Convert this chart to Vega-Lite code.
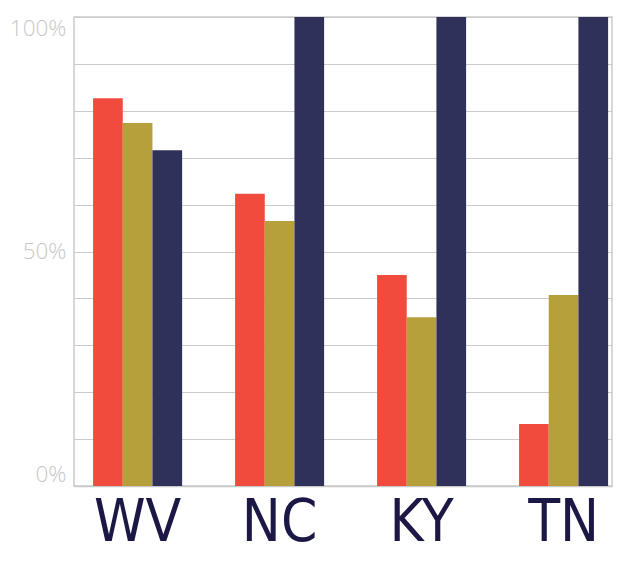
{
  "$schema": "https://vega.github.io/schema/vega-lite/v6.json",
  "width": 538,
  "height": 469,
  "autosize": {"type": "none"},
  "padding": {"left": 74, "top": 17, "right": 18, "bottom": 75},
  "background": "white",
  "config": {
    "view": {"stroke": "#cccccc", "strokeWidth": 1.5}
  },
  "data": {
    "values": [
      {"state": "WV", "series": "A", "value": 82.7},
      {"state": "WV", "series": "B", "value": 77.4},
      {"state": "WV", "series": "C", "value": 71.6},
      {"state": "NC", "series": "A", "value": 62.3},
      {"state": "NC", "series": "B", "value": 56.5},
      {"state": "NC", "series": "C", "value": 100},
      {"state": "KY", "series": "A", "value": 45.0},
      {"state": "KY", "series": "B", "value": 36.0},
      {"state": "KY", "series": "C", "value": 100},
      {"state": "TN", "series": "A", "value": 13.2},
      {"state": "TN", "series": "B", "value": 40.7},
      {"state": "TN", "series": "C", "value": 100}
    ]
  },
  "mark": {"type": "bar"},
  "encoding": {
    "x": {
      "field": "state",
      "type": "nominal",
      "sort": ["WV", "NC", "KY", "TN"],
      "scale": {"paddingInner": 0.373, "paddingOuter": 0.081, "align": 0.83},
      "axis": {
        "title": null,
        "ticks": false,
        "domain": true,
        "domainColor": "#c8c8c8",
        "domainWidth": 1.5,
        "labelAngle": 0,
        "labelFont": "DejaVu Sans Condensed",
        "labelFontSize": 58,
        "labelColor": "#1b1845",
        "labelPadding": 8,
        "labelBaseline": "top"
      }
    },
    "xOffset": {"field": "series", "type": "nominal", "sort": ["A", "B", "C"]},
    "y": {
      "field": "value",
      "type": "quantitative",
      "scale": {"domain": [0, 100], "nice": false},
      "axis": {
        "title": null,
        "values": [0, 10, 20, 30, 40, 50, 60, 70, 80, 90, 100],
        "labelExpr": "datum.value % 50 === 0 ? datum.value + '%' : ''",
        "labelFlush": true,
        "labelFont": "Open Sans",
        "labelFontWeight": 300,
        "labelFontSize": 22.5,
        "labelColor": "#c8c8c8",
        "labelPadding": 8,
        "ticks": false,
        "domain": false,
        "grid": true,
        "gridColor": "#cccccc",
        "gridWidth": 1.2
      }
    },
    "color": {
      "field": "series",
      "type": "nominal",
      "scale": {"domain": ["A", "B", "C"], "range": ["#F04B3C", "#B6A03C", "#30315B"]},
      "legend": null
    }
  }
}
